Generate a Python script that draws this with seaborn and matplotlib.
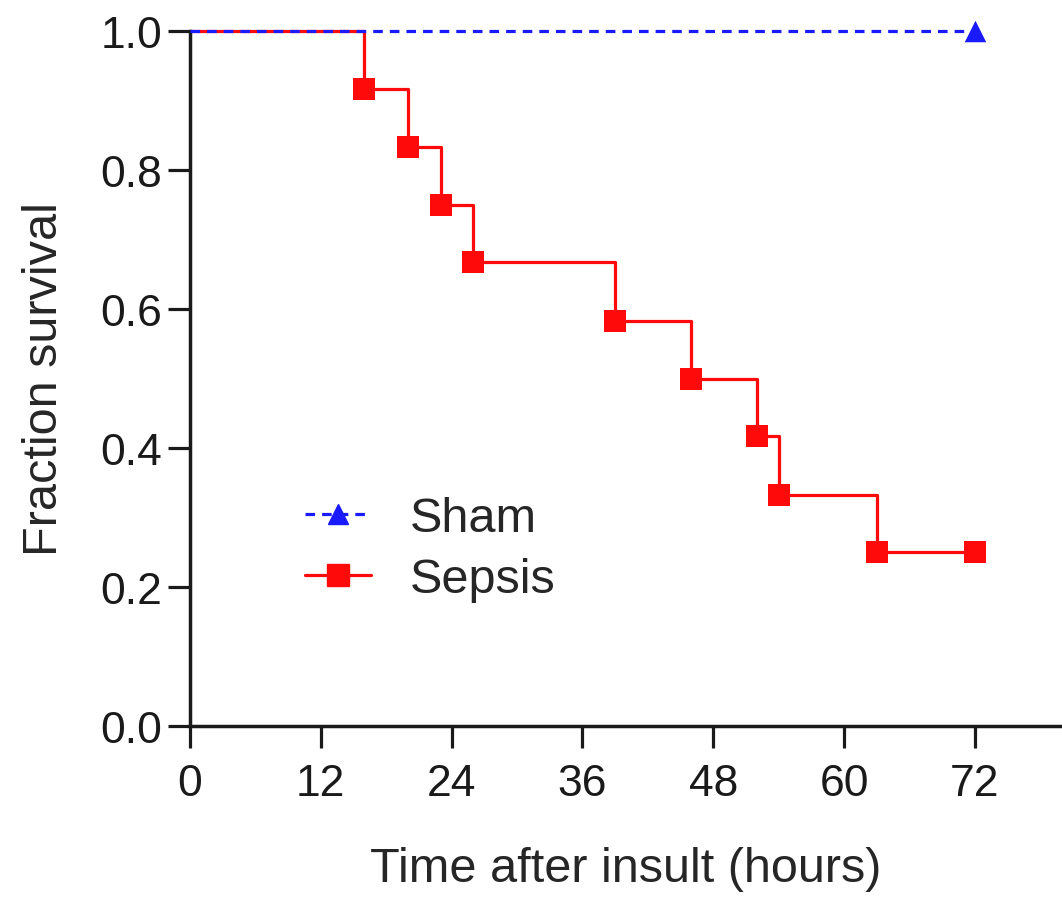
import numpy as np
import pandas as pd
import matplotlib
matplotlib.use("Agg")
import matplotlib.pyplot as plt
import seaborn as sns
from matplotlib.lines import Line2D

# survival data
sham_time = [0, 72]
sham_surv = [1.0, 1.0]
sepsis_time = [0, 16, 20, 23, 26, 39, 46, 52, 54, 63, 72]
sepsis_surv = [1.0, 0.917, 0.833, 0.75, 0.667, 0.583, 0.5, 0.417, 0.333, 0.25, 0.25]
x_ticks = [0, 12, 24, 36, 48, 60, 72]
y_ticks = [0.0, 0.2, 0.4, 0.6, 0.8, 1.0]

sns.set_style("ticks")
plt.rcParams['font.family'] = ['Liberation Sans', 'DejaVu Sans']

red = "#ff0a0a"
blue = "#1a1aff"

sepsis_df = pd.DataFrame({"time": sepsis_time, "surv": sepsis_surv})
sham_df = pd.DataFrame({"time": sham_time, "surv": sham_surv})

fig = plt.figure(figsize=(10.62, 9.03), dpi=100)
ax = fig.add_axes([190 / 1062, 1 - 727 / 903, 872 / 1062, 695 / 903])

sns.lineplot(data=sepsis_df, x="time", y="surv", ax=ax, color=red, lw=2.3,
             drawstyle="steps-post", clip_on=False, zorder=2)
# markers at each death and at the censored end point
sns.scatterplot(data=sepsis_df.iloc[1:], x="time", y="surv", ax=ax, marker="s",
                s=270, color=red, edgecolor=red, linewidth=0, clip_on=False, zorder=3)

sns.lineplot(data=sham_df, x="time", y="surv", ax=ax, color=blue, lw=2.3,
             linestyle=(0, (3, 2.2)), clip_on=False, zorder=4)
sns.scatterplot(data=sham_df.iloc[1:], x="time", y="surv", ax=ax, marker="^",
                s=240, color=blue, edgecolor=blue, linewidth=0, clip_on=False, zorder=5)

ax.set_xlim(0, 80)
ax.set_ylim(0, 1.0)
ax.set_xticks(x_ticks)
ax.set_yticks(y_ticks)
ax.set_yticklabels([f"{v:.1f}" for v in y_ticks])
ax.tick_params(labelsize=32, width=2.3, length=16, direction="out", colors="#1a1a1a", pad=4)
ax.tick_params(axis="x", pad=11)
for side in ["left", "bottom"]:
    ax.spines[side].set_linewidth(2.5)
    ax.spines[side].set_color("#1a1a1a")
sns.despine(ax=ax)

ax.set_xlabel("Time after insult (hours)", fontsize=35, labelpad=30)
ax.set_ylabel("Fraction survival", fontsize=35, labelpad=24)

handles = [
    Line2D([], [], color=blue, lw=2.3, linestyle=(0, (3, 2.2)), marker="^", markersize=14),
    Line2D([], [], color=red, lw=2.3, marker="s", markersize=16),
]
ax.legend(handles, ["Sham", "Sepsis"], loc="center left", bbox_to_anchor=(0.132, 0.255),
          frameon=False, fontsize=35, handlelength=1.35, handletextpad=0.8,
          labelspacing=0.33, borderpad=0, borderaxespad=0)

fig.savefig("out.png", dpi=100)
